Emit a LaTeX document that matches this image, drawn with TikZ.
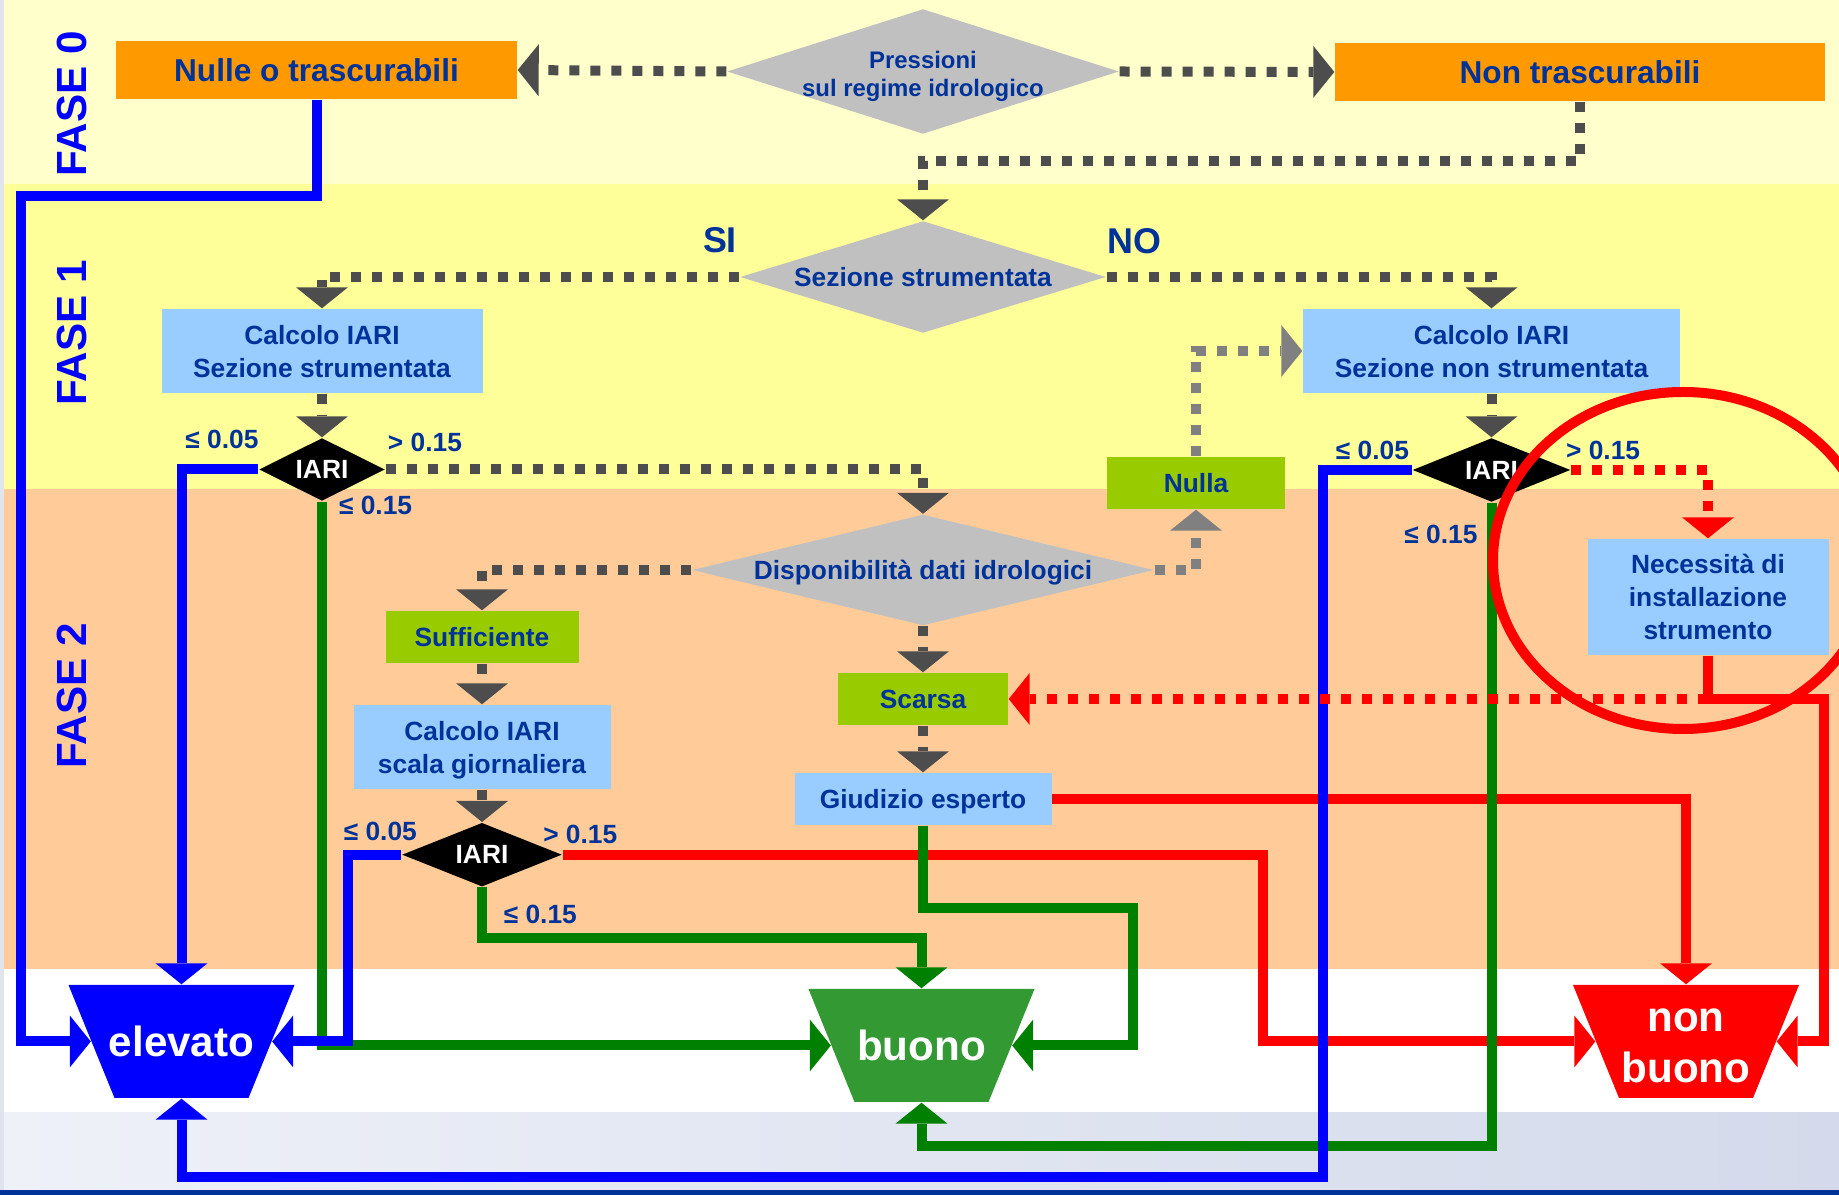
\documentclass[tikz,border=0pt]{standalone}
\usepackage{fontspec}
\setmainfont{Liberation Sans}
\usetikzlibrary{shapes.geometric,arrows.meta}

\definecolor{txtblue}{HTML}{003399}
\definecolor{fasecol}{HTML}{0000FF}
\definecolor{bandzero}{HTML}{FFFFCC}
\definecolor{bandone}{HTML}{FFFF99}
\definecolor{bandtwo}{HTML}{FFCC99}
\definecolor{boxorange}{HTML}{FF9900}
\definecolor{boxblue}{HTML}{99CCFF}
\definecolor{boxgreen}{HTML}{99CC00}
\definecolor{boxgray}{HTML}{C0C0C0}
\definecolor{dotgray}{HTML}{4D4D4D}
\definecolor{dotlight}{HTML}{808080}
\definecolor{lineblue}{HTML}{0000FF}
\definecolor{linegreen}{HTML}{008000}
\definecolor{linered}{HTML}{FF0000}
\definecolor{outgreen}{HTML}{339933}
\definecolor{footleft}{HTML}{EEF1F8}
\definecolor{footright}{HTML}{D4DAEB}
\definecolor{footline}{HTML}{003399}
\definecolor{sidestrip}{HTML}{DFE4EF}

\tikzset{outcome/.style={rectangle,fill=white,minimum width=22.6mm,minimum height=11.3mm,inner sep=0pt,
  text=white,align=center,font=\bfseries\fontsize{12}{14.5}\selectfont,
  path picture={\fill[#1] (path picture bounding box.north west) -- (path picture bounding box.north east)
    -- ([xshift=-4.6mm]path picture bounding box.south east) -- ([xshift=4.6mm]path picture bounding box.south west) -- cycle;}}}

\begin{document}
\begin{tikzpicture}[x=0.1mm,y=-0.1mm,>={Triangle[length=2.1mm,width=5.2mm,line width=0pt]}]

\def\tside{2.3mm}

\tikzstyle{fase} = [rotate=90,text=fasecol,font=\bfseries\fontsize{12}{14}\selectfont,inner sep=0pt];
\tikzstyle{obox} = [rectangle,fill=boxorange,text=txtblue,font=\bfseries\fontsize{9}{10.8}\selectfont,minimum height=5.8mm,inner sep=0pt];
\tikzstyle{bbox} = [rectangle,fill=boxblue,text=txtblue,font=\bfseries\fontsize{7.5}{9.4}\selectfont,align=center,inner sep=0pt,text depth=0pt];
\tikzstyle{gbox} = [rectangle,fill=boxgreen,text=txtblue,font=\bfseries\fontsize{7.5}{9.4}\selectfont,minimum height=5.2mm,inner sep=0pt,text depth=0pt];
\tikzstyle{qnode} = [diamond,fill=boxgray,text=txtblue,font=\bfseries\fontsize{7.5}{9.4}\selectfont,align=center,inner sep=0pt,text depth=0pt];
\tikzstyle{inode} = [diamond,fill=black,text=white,font=\bfseries\fontsize{7.5}{9}\selectfont,inner sep=0pt,aspect=2];
\tikzstyle{lnode} = [text=txtblue,font=\bfseries\fontsize{7.5}{9}\selectfont,inner sep=0pt];
\tikzstyle{dots} = [draw=dotgray,line width=1mm,dash pattern=on 1mm off 1.1mm,->];
\tikzstyle{ldots} = [dots,draw=dotlight];
\tikzstyle{rdots} = [dots,draw=linered];
\tikzstyle{rline} = [draw=linered,line width=1mm,->];
\tikzstyle{gline} = [draw=linegreen,line width=1mm,->];
\tikzstyle{bline} = [draw=lineblue,line width=1mm,->];

\useasboundingbox (0,0) rectangle (1839,1195);

\fill [bandzero] (0,0) rectangle (1839,184);
\fill [bandone] (0,184) rectangle (1839,489);
\fill [bandtwo] (0,489) rectangle (1839,969);
\fill [white] (0,969) rectangle (1839,1113);
\shade [left color=footleft,right color=footright] (0,1113) rectangle (1839,1190);
\fill [footline] (0,1190) rectangle (1839,1195);
\fill [sidestrip] (0,0) rectangle (4,1190);

\node [fase] (fase0) at (72,104) {FASE 0};
\node [fase] (fase1) at (72,333) {FASE 1};
\node [fase] (fase2) at (72,696) {FASE 2};

\node [obox,minimum width=40.1mm] (nulle) at (316.5,70) {Nulle o trascurabili};
\node [qnode,font=\bfseries\fontsize{6.8}{7.9}\selectfont,minimum width=39.2mm,minimum height=12.5mm,aspect=3.1,inner xsep=-2mm] (pres) at (923,71.5) {\rule{0pt}{2.2mm}Pressioni\\sul regime idrologico};
\node [obox,minimum width=49mm] (nontr) at (1580,72) {Non trascurabili};

\node [qnode,minimum width=36.6mm,minimum height=11.2mm,aspect=3.3] (sez) at (923,277) {Sezione strumentata};
\node [lnode,font=\bfseries\fontsize{10.2}{12}\selectfont] (si) at (720,240) {SI};
\node [lnode,font=\bfseries\fontsize{10.2}{12}\selectfont] (no) at (1134.5,241.5) {NO};

\node [bbox,minimum width=32.1mm,minimum height=8.4mm] (calc1) at (322,351) {Calcolo IARI\\Sezione strumentata};
\node [bbox,minimum width=37.7mm,minimum height=8.4mm] (calc2) at (1491.5,351) {Calcolo IARI\\Sezione non strumentata};
\node [inode,minimum width=12.6mm,minimum height=6.3mm] (iari1) at (322,469.5) {IARI};
\node [inode,minimum width=15.8mm,minimum height=6.4mm] (iari2) at (1491.5,470) {IARI};
\node [gbox,minimum width=17.8mm] (nulla) at (1196,483) {Nulla};

\node [qnode,minimum width=46.2mm,minimum height=11.1mm,aspect=4.2] (disp) at (923,570) {Disponibilità dati idrologici};
\node [gbox,minimum width=19.3mm] (suff) at (482,637) {Sufficiente};
\node [bbox,minimum width=25.7mm,minimum height=8.4mm] (calc3) at (482,747) {Calcolo IARI\\scala giornaliera};
\node [inode,minimum width=16mm,minimum height=6.4mm] (iari3) at (482,854.7) {IARI};
\node [gbox,minimum width=17mm] (scarsa) at (923,699) {Scarsa};
\node [bbox,minimum width=25.7mm,minimum height=5.2mm] (giud) at (923,799) {Giudizio esperto};
\node [bbox,minimum width=24.1mm,minimum height=11.6mm] (necess) at (1708,597) {Necessità di\\installazione\\strumento};

\node [outcome=lineblue] (elev) at (181.5,1041.5) {elevato};
\node [outcome=outgreen] (buono) at (921.5,1045.5) {buono};
\node [outcome=linered] (nonbuono) at (1686,1041.5) {\rule{0pt}{3.1mm}non\\buono};

\coordinate (split) at (necess.south |- scarsa.east);

\draw [dots] (pres.west) -- (nulle.east);
\draw [dots] (pres.east) -- (nontr.west);
\draw [dots] (nontr.south) -- ++(0,59) -| (sez.north);
\draw [dots] (sez.west) -| (calc1.north);
\draw [dots] (sez.east) -| (calc2.north);
\draw [dots] (calc1.south) -- (iari1.north);
\draw [dots] (calc2.south) -- (iari2.north);
\draw [dots] (iari1.east) -| (disp.north);
\draw [dots] (disp.west) -| (suff.north);
\draw [dots] (suff.south) -- (calc3.north);
\draw [dots] (calc3.south) -- (iari3.north);
\draw [dots] (disp.south) -- (scarsa.north);
\draw [dots] (scarsa.south) -- (giud.north);
\draw [ldots] (disp.east) -| (nulla.south);
\draw [ldots] (nulla.north) |- (calc2.west);

\draw [rline] (iari3.east) -- ++(700,0) |- ([xshift=\tside]nonbuono.west);
\draw [rline] (giud.east) -| (nonbuono.north);
\draw [rline] (necess.south) -- (split) -- ++(116,0) |- ([xshift=-\tside]nonbuono.east);

\draw [gline] (iari1.south) |- ([xshift=\tside]buono.west);
\draw [gline] (iari3.south) -- ++(0,51) -| (buono.north);
\draw [gline] (giud.south) -- ++(0,82) -- ++(210,0) |- ([xshift=-\tside]buono.east);
\draw [gline] (iari2.south) -- ++(0,643.5) -| (buono.south);

\draw [bline] (nulle.south) -- ++(0,96) -- ++(-296,0) |- ([xshift=\tside]elev.west);
\draw [bline] (iari1.west) -| (elev.north);
\draw [bline] (iari3.west) -- ++(-53,0) |- ([xshift=-\tside]elev.east);
\draw [bline] (iari2.west) -- ++(-89,0) -- ++(0,707) -| (elev.south);

\draw [rdots] (iari2.east) -| (necess.north);
\draw [rdots] (split) -- (scarsa.east);

\node [ellipse,draw=linered,line width=1mm,minimum width=38mm,minimum height=33.7mm,inner sep=0pt] (ring) at (1683,560.5) {};

\node [lnode] (l1a) at ([xshift=-10mm,yshift=3.05mm]iari1.center) {≤ 0.05};
\node [lnode] (l1b) at ([xshift=10.3mm,yshift=2.75mm]iari1.center) {> 0.15};
\node [lnode] (l1c) at ([xshift=5.36mm,yshift=-3.6mm]iari1.center) {≤ 0.15};
\node [lnode] (l2a) at ([xshift=-11.9mm,yshift=2mm]iari2.center) {≤ 0.05};
\node [lnode] (l2b) at ([xshift=11.16mm,yshift=1.93mm]iari2.center) {> 0.15};
\node [lnode] (l2c) at ([xshift=-5.05mm,yshift=-6.45mm]iari2.center) {≤ 0.15};
\node [lnode] (l3a) at ([xshift=-10.17mm,yshift=2.37mm]iari3.center) {≤ 0.05};
\node [lnode] (l3b) at ([xshift=9.83mm,yshift=2.07mm]iari3.center) {> 0.15};
\node [lnode] (l3c) at ([xshift=5.83mm,yshift=-5.98mm]iari3.center) {≤ 0.15};

\end{tikzpicture}
\end{document}
